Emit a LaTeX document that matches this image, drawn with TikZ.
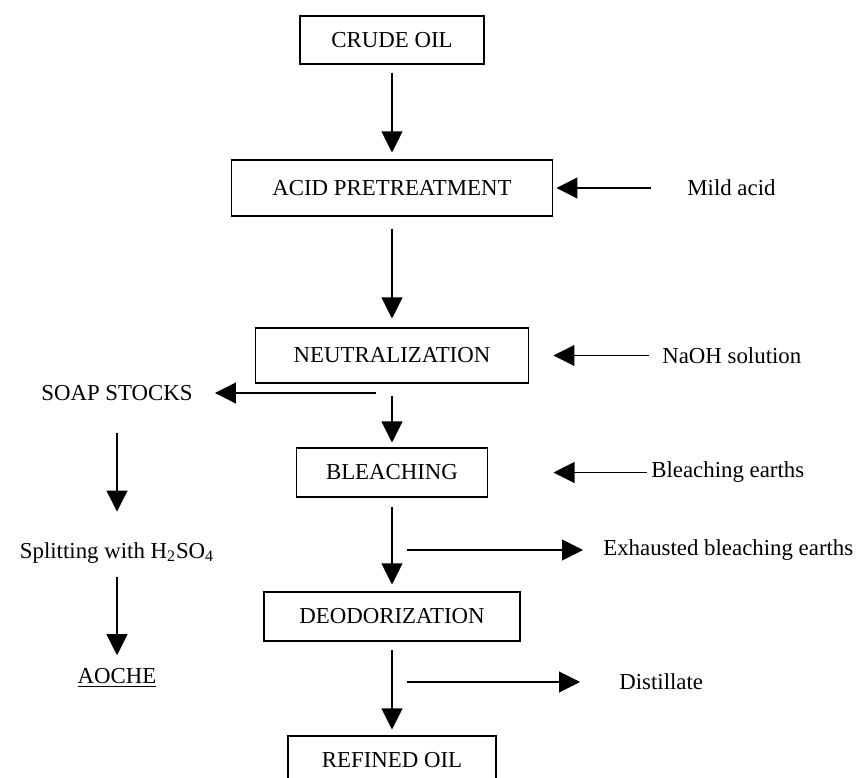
\documentclass[tikz,border=0pt]{standalone}
\usepackage{fontspec}
\setmainfont{Liberation Serif}
\usepackage{tikz}
\usetikzlibrary{arrows.meta}
\tikzstyle{edge} = [draw,line width=0.6pt,-{Triangle[length=0.42cm,width=0.42cm]}]
\tikzstyle{lbl} = [inner sep=0pt]
\tikzset{nd/.style={rectangle,draw,line width=0.6pt,align=center,inner sep=0pt}}

\begin{document}
\begin{tikzpicture}[x=0.02cm, y=-0.02cm, font=\fontsize{13}{15}\selectfont]

  \def\u{0.02cm};
  \useasboundingbox (0,0) rectangle (860,778);

  % process boxes
  \foreach \name/\x/\y/\w/\h/\label in {crude/392/40/3.68/0.96/CRUDE OIL, acid/392/188/6.44/1.12/ACID PRETREATMENT, neut/392/355.5/5.46/1.10/NEUTRALIZATION, bleach/392/472.5/3.82/0.98/BLEACHING, deod/392/616.5/5.12/0.98/DEODORIZATION, refined/392/760.5/4.16/0.98/REFINED OIL}
          \node[nd, minimum width=\w cm, minimum height=\h cm] (\name) at (\x,\y) {\label};

  % inputs and outputs
  \foreach \name/\x/\y/\label in {mild/687/188/Mild acid, naoh/662/355.5/NaOH solution, bearth/651/472.5/Bleaching earths, exh/603/550/Exhausted bleaching earths, dist/619/682/Distillate}
          \node[lbl, anchor=west] (\name) at (\x,\y) {\label};

  \foreach \name/\x/\y/\label in {soap/117/393/SOAP STOCKS, split/117/553/{Splitting with H\textsubscript{2}SO\textsubscript{4}}, aoche/117/678/\underline{AOCHE}}
          \node[lbl] (\name) at (\x,\y) {\label};

  \coordinate (sp) at (376,393);
  \coordinate (ex) at (407,550);
  \coordinate (ds) at (407,682);

  \foreach \source/ \dest /\s/\e in {crude/acid/8/7, acid/neut/12/9, neut/bleach/12/5, bleach/deod/9/7, deod/refined/8/6, mild/acid/36/3, naoh/neut/13/24.5, bearth/bleach/4/65.5, sp/soap/0/22, ex/exh/0/20, ds/dist/0/39, soap/split/31.5/30.7, split/aoche/13.7/13}
         \path[edge, shorten <=\s*\u, shorten >=\e*\u] (\source) -- (\dest);

\end{tikzpicture}
\end{document}
